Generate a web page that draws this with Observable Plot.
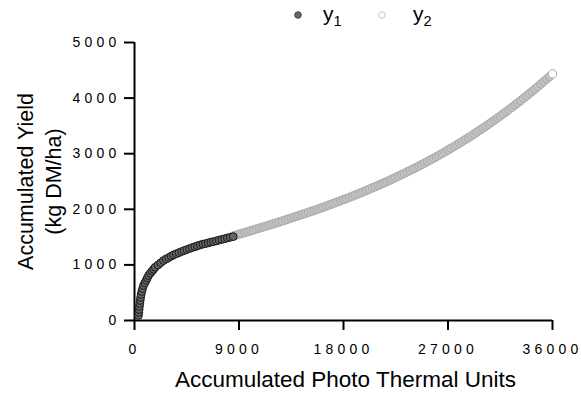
<!DOCTYPE html>
<html>
<head>
<meta charset="utf-8">
<script src="https://cdn.jsdelivr.net/npm/d3@7"></script>
<script src="https://cdn.jsdelivr.net/npm/@observablehq/plot@0.6"></script>
<style>
  html, body { margin: 0; padding: 0; background: #fff; }
  body { width: 581px; height: 394px; overflow: hidden; font-family: "Liberation Sans", Arial, sans-serif; }
  #legend { position: relative; width: 581px; height: 34px; }
  #legend .lab { position: absolute; font-size: 21px; color: #000; line-height: 1; }
  #legend .lab sub { font-size: 14.5px; vertical-align: -5px; line-height: 0; }
  g[aria-label="x-axis tick label"] text, g[aria-label="y-axis tick label"] text { letter-spacing: 4.2px; }
</style>
</head>
<body>
<div id="legend"></div>
<div id="chart"></div>
<script>
// ---- data ----
const seriesNames = ["y1", "y2"];
const xTicks = [0, 9000, 18000, 27000, 36000];
const xTickLabels = ["0", "9000", "18000", "27000", "36000"];
const yTicks = [0, 1000, 2000, 3000, 4000, 5000];
const yTickLabels = ["0", "1000", "2000", "3000", "4000", "5000"];
const xTitle = "Accumulated Photo Thermal Units";
const yTitle = ["Accumulated Yield", "(kg DM/ha)"];

const y1X = [345,370,396,422,456,491,525,568,629,698,775,887,1008,1102,1206,1352,1507,1645,1783,2016,2257,2498,2730,2954,3161,3359,3592,3824,4057,4281,4513,4746,4970,5202,5426,5659,5891,6115,6348,6581,6804,7046,7287,7528,7761,8002,8243,8501];
const y1Y = [90,144,198,252,305,359,413,467,521,575,629,676,722,765,808,848,888,922,958,997,1038,1078,1107,1132,1157,1180,1200,1220,1240,1258,1276,1294,1312,1326,1344,1360,1373,1383,1396,1409,1419,1432,1446,1459,1471,1484,1497,1509];

const y2X = [8500,8750,9000,9250,9500,9750,10000,10250,10500,10750,
11000,11250,11500,11750,12000,12250,12500,12750,13000,13250,
13500,13750,14000,14250,14500,14750,15000,15250,15500,15750,
16000,16250,16500,16750,17000,17250,17500,17750,18000,18250,
18500,18750,19000,19250,19500,19750,20000,20250,20500,20750,
21000,21250,21500,21750,22000,22250,22500,22750,23000,23250,
23500,23750,24000,24250,24500,24750,25000,25250,25500,25750,
26000,26250,26500,26750,27000,27250,27500,27750,28000,28250,
28500,28750,29000,29250,29500,29750,30000,30250,30500,30750,
31000,31250,31500,31750,32000,32250,32500,32750,33000,33250,
33500,33750,34000,34250,34500,34750,35000,35250,35500,35750,
36000];
const y2Y = [1520,1535,1551,1566,1582,1598,1613,1629,1645,1661,
1677,1693,1709,1725,1742,1758,1774,1791,1808,1825,
1842,1859,1876,1894,1911,1929,1947,1965,1983,2001,
2019,2038,2057,2076,2095,2115,2134,2154,2174,2194,
2214,2235,2256,2277,2298,2320,2341,2364,2386,2408,
2431,2454,2477,2501,2525,2549,2573,2598,2623,2648,
2674,2700,2726,2752,2779,2806,2834,2862,2890,2918,
2947,2976,3006,3036,3066,3097,3127,3159,3190,3223,
3255,3288,3321,3355,3389,3424,3459,3494,3530,3567,
3603,3640,3678,3716,3754,3793,3833,3873,3913,3954,
3995,4037,4079,4122,4165,4209,4253,4298,4343,4389,
4435];

// ---- styles ----
const y1Fill = "#656565", y1Stroke = "#1a1a1a";
const y2Fill = "#ffffff", y2Stroke = "#a9a9a9", y2Overlap = "#c2c2c2";

// ---- legend ----
const legend = document.getElementById("legend");
const legendItems = [
  {name: seriesNames[0], fill: y1Fill, stroke: "#4a4a4a", cx: 298, tx: 323},
  {name: seriesNames[1], fill: y2Fill, stroke: "#c4c4c4", cx: 382, tx: 413}
];
for (const it of legendItems) {
  const svgNS = "http://www.w3.org/2000/svg";
  const s = document.createElementNS(svgNS, "svg");
  s.setAttribute("width", 12); s.setAttribute("height", 12);
  s.style.position = "absolute"; s.style.left = (it.cx - 6) + "px"; s.style.top = "9px";
  const c = document.createElementNS(svgNS, "circle");
  c.setAttribute("cx", 6); c.setAttribute("cy", 6); c.setAttribute("r", 3.3);
  c.setAttribute("fill", it.fill); c.setAttribute("stroke", it.stroke); c.setAttribute("stroke-width", 1);
  s.appendChild(c);
  legend.appendChild(s);
  const t = document.createElement("div");
  t.className = "lab";
  t.style.left = it.tx + "px"; t.style.top = "3px";
  t.innerHTML = it.name[0] + "<sub>" + it.name.slice(1) + "</sub>";
  legend.appendChild(t);
}

// ---- chart ----
const y1 = y1X.map((x, i) => ({x, y: y1Y[i]}));
const y2 = y2X.map((x, i) => ({x, y: y2Y[i], last: i === y2X.length - 1}));

const chart = Plot.plot({
  width: 581,
  height: 360,
  marginTop: 8,
  marginLeft: 134,
  marginRight: 29,
  marginBottom: 74,
  style: {fontFamily: "'Liberation Sans', Arial, sans-serif", color: "#000", background: "#fff", overflow: "visible"},
  x: {domain: [0, 36000]},
  y: {domain: [0, 5000]},
  marks: [
    Plot.axisX(xTicks, {tickSize: 10, tickPadding: 14, strokeWidth: 2, stroke: "#000", fontSize: 14, label: null,
      tickFormat: d => xTickLabels[xTicks.indexOf(d)]}),
    Plot.axisY(yTicks, {tickSize: 10, tickPadding: 4, strokeWidth: 2, stroke: "#000", fontSize: 14, label: null,
      tickFormat: d => yTickLabels[yTicks.indexOf(d)]}),
    Plot.ruleY([0], {stroke: "#000", strokeWidth: 2}),
    Plot.ruleX([0], {stroke: "#000", strokeWidth: 2}),
    // densely overlapping open circles read as a grey band; the final one stays open (white)
    Plot.dot(y2, {x: "x", y: "y", r: 4.2, fill: d => d.last ? y2Fill : y2Overlap, stroke: y2Stroke, strokeWidth: 1}),
    Plot.dot(y1, {x: "x", y: "y", r: 3.9, fill: y1Fill, stroke: y1Stroke, strokeWidth: 1}),
    Plot.text([xTitle], {frameAnchor: "bottom", text: d => d, dy: 66, dx: 2, lineAnchor: "bottom", fontSize: 22.5, fill: "#000"}),
    Plot.text([yTitle.join("\n")], {frameAnchor: "left", text: d => d, dx: -74, rotate: -90, textAnchor: "middle", lineAnchor: "bottom", fontSize: 21.5, lineHeight: 1.3, fill: "#000"})
  ]
});
document.getElementById("chart").appendChild(chart);
</script>
</body>
</html>
